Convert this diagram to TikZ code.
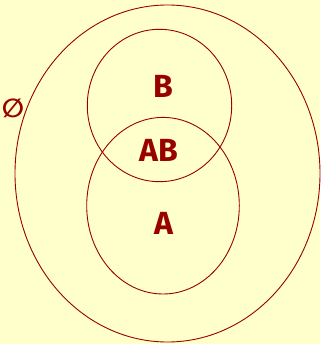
\documentclass[tikz,border=0pt]{standalone}
\usepackage{fontspec}
\setmainfont{Fira Sans}
\newfontfamily\symfont{DejaVu Sans}
\definecolor{paper}{RGB}{255,255,204}
\definecolor{ink}{RGB}{153,0,0}

\begin{document}
\begin{tikzpicture}[x=1pt,y=-1pt,
  every node/.style={inner sep=0pt,outer sep=0pt,text=ink},
  set/.style={draw=ink,line width=0.9pt},
  lb/.style={font=\bfseries\fontsize{32}{36}\selectfont,anchor=center}]

% ---- paper -------------------------------------------------------------
\fill[paper] (0,0) rectangle (320,344);
\useasboundingbox (0,0) rectangle (320,344);

% ---- sets --------------------------------------------------------------
\draw[set] (167.5,173.5) ellipse [x radius=152.5,y radius=168.5];
\draw[set] (159.5,105.5) ellipse [x radius=72.2,y radius=76.2];
\draw[set] (163,205.7) ellipse [x radius=76.3,y radius=88.3];

% ---- labels ------------------------------------------------------------
\node[lb] (lblB) at (163,86) {B};
\node[lb] (lblAB) at (159,150) {AB};
\node[lb] (lblA) at (164,223) {A};
\node[font=\symfont\bfseries\fontsize{26}{30}\selectfont] (lblnull) at (13,108) {∅};
\end{tikzpicture}
\end{document}
